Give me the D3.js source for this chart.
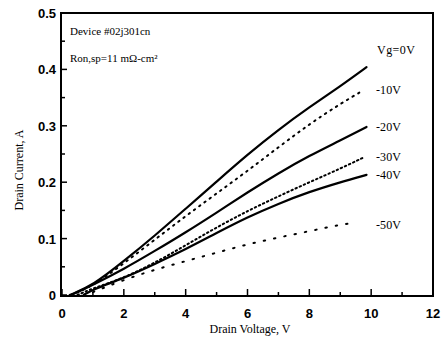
<!DOCTYPE html>
<html>
<head>
<meta charset="utf-8">
<script src="https://cdn.jsdelivr.net/npm/d3@7"></script>
<style>
body { margin: 0; background: #fff; }
svg { display: block; }
</style>
</head>
<body>
<svg width="441" height="343"></svg>
<script>
// drain voltage grid (V) and drain current (A) per gate bias
let vg0 = [[0.25, 0], [1, 0.017], [2, 0.06], [3, 0.105], [4, 0.153], [5, 0.201], [6, 0.249], [7, 0.293], [8, 0.333], [9, 0.37], [9.85, 0.404]]
let vg10 = [[0.3, 0], [1, 0.016], [2, 0.056], [3, 0.098], [4, 0.14], [5, 0.18], [6, 0.22], [7, 0.262], [8, 0.303], [9, 0.339], [9.75, 0.363]]
let vg20 = [[0.3, 0], [1, 0.018], [2, 0.046], [3, 0.078], [4, 0.111], [5, 0.146], [6, 0.182], [7, 0.216], [8, 0.247], [9, 0.274], [9.85, 0.298]]
let vg30 = [[0.5, 0], [1, 0.012], [2, 0.03], [3, 0.057], [4, 0.088], [5, 0.12], [6, 0.149], [7, 0.175], [8, 0.2], [9, 0.224], [9.8, 0.245]]
let vg40 = [[0.7, 0], [1, 0.01], [2, 0.03], [3, 0.055], [4, 0.081], [5, 0.11], [6, 0.138], [7, 0.162], [8, 0.183], [9, 0.2], [9.85, 0.213]]
let vg50 = [[1, 0.005], [2, 0.027], [3, 0.045], [4, 0.06], [5, 0.075], [6, 0.09], [7, 0.102], [8, 0.113], [9, 0.125], [9.5, 0.128]]

let seriesNames = ['Vg=0V', '-10V', '-20V', '-30V', '-40V', '-50V']
let seriesData = [vg0, vg10, vg20, vg30, vg40, vg50]
let seriesDash = [null, '1.5,5', null, '1.5,3', null, '1.5,9']
let labelI = [0.435, 0.363, 0.298, 0.245, 0.213, 0.125]

let xTicks = [0, 2, 4, 6, 8, 10, 12]
let yTicks = [0, 0.1, 0.2, 0.3, 0.4, 0.5]

let svg = d3.select('svg')
let x = d3.scaleLinear().domain([0, 12]).range([62, 433])
let y = d3.scaleLinear().domain([0, 0.5]).range([295, 13])

// frame
svg.append('rect')
    .attr('x', 61).attr('y', 13)
    .attr('width', 372).attr('height', 283)
    .attr('fill', 'none')
    .attr('stroke', '#000')
    .attr('stroke-width', 2)

// inward ticks
let g = svg.append('g')
g.selectAll('line.xmaj')
    .data(d3.range(0, 13, 1))
    .enter()
    .append('line')
    .attr('x1', d => x(d)).attr('x2', d => x(d))
    .attr('y1', 295).attr('y2', d => d % 2 === 0 ? 289 : 292)
    .attr('stroke', '#000').attr('stroke-width', 1.5)
g.selectAll('line.ymaj')
    .data(d3.range(0, 0.51, 0.05))
    .enter()
    .append('line')
    .attr('y1', d => y(d)).attr('y2', d => y(d))
    .attr('x1', 62).attr('x2', (d, i) => i % 2 === 0 ? 67 : 65)
    .attr('stroke', '#000').attr('stroke-width', 1.5)

svg.selectAll('text.xt')
    .data(xTicks)
    .enter()
    .append('text')
    .attr('x', d => x(d))
    .attr('y', 318)
    .attr('text-anchor', 'middle')
    .attr('font-family', 'Liberation Sans, Arial, sans-serif')
    .attr('font-weight', 'bold')
    .attr('font-size', 13)
    .text(d => d)

svg.selectAll('text.yt')
    .data(yTicks)
    .enter()
    .append('text')
    .attr('x', 56)
    .attr('y', d => y(d) + 5)
    .attr('text-anchor', 'end')
    .attr('font-family', 'Liberation Sans, Arial, sans-serif')
    .attr('font-weight', 'bold')
    .attr('font-size', 13)
    .text(d => d === 0 ? '0' : d.toFixed(1))

let line = d3.line().x(d => x(d[0])).y(d => y(d[1])).curve(d3.curveBasis)

svg.selectAll('path.curve')
    .data(seriesData)
    .enter()
    .append('path')
    .attr('d', line)
    .attr('fill', 'none')
    .attr('stroke', '#000')
    .attr('stroke-width', (d, i) => seriesDash[i] ? 2 : 2.2)
    .attr('stroke-linecap', 'round')
    .attr('stroke-dasharray', (d, i) => seriesDash[i])

svg.selectAll('text.lab')
    .data(seriesNames)
    .enter()
    .append('text')
    .attr('x', (d, i) => i === 0 ? 377 : 376)
    .attr('y', (d, i) => y(labelI[i]) + 4)
    .attr('font-family', 'Liberation Serif, Times New Roman, serif')
    .attr('font-size', 12)
    .attr('textLength', (d, i) => i === 0 ? 38 : 25)
    .text(d => d)

let note = svg.append('g')
    .attr('font-family', 'Liberation Serif, Times New Roman, serif')
    .attr('font-size', 11)
note.append('text').attr('x', 70).attr('y', 35).text('Device #02j301cn')
note.append('text').attr('x', 70).attr('y', 62).text('Ron,sp=11 mΩ-cm²')

svg.append('text')
    .attr('x', 250).attr('y', 333)
    .attr('text-anchor', 'middle')
    .attr('font-family', 'Liberation Serif, Times New Roman, serif')
    .attr('font-size', 12)
    .text('Drain Voltage, V')

svg.append('text')
    .attr('transform', 'translate(23,170) rotate(-90)')
    .attr('text-anchor', 'middle')
    .attr('font-family', 'Liberation Serif, Times New Roman, serif')
    .attr('font-size', 12)
    .text('Drain Current, A')
</script>
</body>
</html>
